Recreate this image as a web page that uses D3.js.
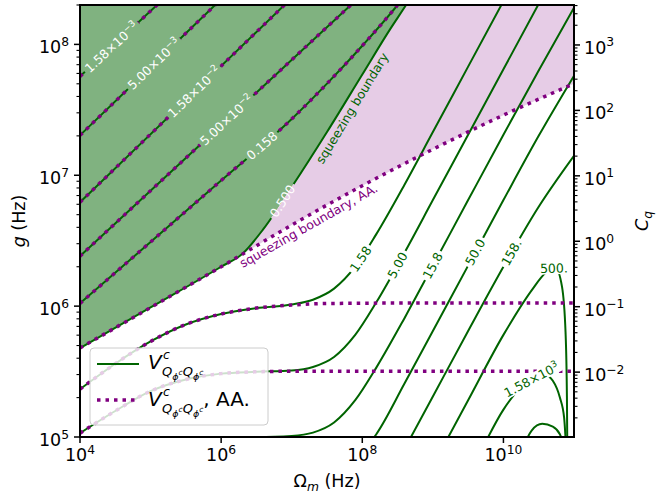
<!DOCTYPE html>
<html>
<head>
<meta charset="utf-8">
<script src="https://cdn.jsdelivr.net/npm/d3@7"></script>
<style>
body { margin: 0; background: #fff; }
svg { font-family: "DejaVu Sans", sans-serif; }
</style>
</head>
<body>
<svg id="chart" width="657" height="494"></svg>
<script>
// contour levels of V^c (the 5000 one carries no label)
var levels = [1.58e-3, 5e-3, 1.58e-2, 5e-2, 0.158, 0.5, 1.58, 5, 15.8, 50, 158, 500, 1580, 5000];

// every curve is a list of [Omega_m (Hz), g (Hz)]
// upper left: exact and AA. lines lie on top of each other
var v1p58m3 = [[1e4, 5.70e7], [3.16e4, 1.01e8], [1.6e5, 2.28e8]];
var v5p00m3 = [[1e4, 2.02e7], [1e5, 6.68e7], [1.3e6, 2.54e8]];
var v1p58m2 = [[1e4, 6.22e6], [3.16e5, 3.75e7], [1.26e7, 2.55e8]];
var v5p00m2 = [[1e4, 2.41e6], [1e6, 2.41e7], [1e8, 2.41e8]];
var v0p158 = [[1e4, 1.05e6], [1e5, 3.09e6], [1e6, 9.12e6], [1e7, 2.69e7], [3.16e7, 5.01e7],
              [1e8, 9.77e7], [3.16e8, 2.0e8], [3.98e8, 2.34e8]];

// squeezing boundary (V = 0.500), exact and AA.
var boundExact = [[1e4, 4.78e5], [1e5, 9.77e5], [1e6, 2.0e6], [2.0e6, 2.51e6], [3.98e6, 3.89e6],
                  [1e7, 8.13e6], [3.16e7, 2.14e7], [1e8, 5.89e7], [2.51e8, 1.32e8], [4.17e8, 2.0e8],
                  [5.01e8, 2.34e8]];
var boundAA = [[1e4, 4.78e5], [1e5, 9.77e5], [1e6, 2.0e6], [1e7, 4.17e6], [1e8, 8.32e6],
               [1e9, 1.58e7], [1e10, 2.88e7], [1e11, 5.01e7]];

// lower part
var v1p58AA = [[1e4, 2.32e5], [3.16e4, 3.63e5], [1e5, 5.37e5], [3.16e5, 7.24e5], [1e6, 8.71e5],
               [3.16e6, 9.66e5], [1e7, 1.02e6], [3.16e7, 1.047e6], [3.16e8, 1.055e6], [1e11, 1.055e6]];
var v1p58 = [[1e4, 2.32e5], [3.16e4, 3.63e5], [1e5, 5.37e5], [3.16e5, 7.24e5], [1e6, 8.71e5],
             [3.16e6, 9.66e5], [1e7, 1.03e6], [2.0e7, 1.12e6], [3.98e7, 1.36e6], [7.94e7, 2.0e6],
             [1.58e8, 3.55e6], [3.98e8, 8.51e6], [1e9, 2.14e7], [3.16e9, 6.76e7], [1e10, 2.14e8]];
var v5p00AA = [[1e4, 1.07e5], [3.16e4, 1.58e5], [1e5, 2.24e5], [3.16e5, 2.75e5], [1e6, 3.05e5],
               [3.16e6, 3.15e5], [1e7, 3.18e5], [1e11, 3.18e5]];
var v5p00 = [[1e4, 1.07e5], [3.16e4, 1.58e5], [1e5, 2.24e5], [3.16e5, 2.75e5], [1e6, 3.05e5],
             [3.16e6, 3.15e5], [1e7, 3.22e5], [2.0e7, 3.43e5], [3.98e7, 4.09e5], [7.94e7, 6.03e5],
             [1.58e8, 1.07e6], [3.98e8, 2.57e6], [1e9, 6.46e6], [3.16e9, 2.04e7], [1e10, 6.46e7],
             [3.16e10, 2.04e8]];
var v15p8 = [[1e6, 9.98e4], [3.16e6, 1.0e5], [1e7, 1.02e5], [2.0e7, 1.08e5], [3.98e7, 1.29e5],
             [7.94e7, 1.91e5], [1.58e8, 3.39e5], [3.98e8, 8.13e5], [1e9, 2.04e6], [3.16e9, 6.46e6],
             [1e10, 2.04e7], [3.16e10, 6.31e7], [1e11, 1.91e8]];
var v50p0 = [[1.26e8, 8.9e4], [1.58e8, 1.05e5], [3.98e8, 2.57e5], [1e9, 6.46e5], [3.16e9, 2.04e6],
             [1e10, 6.46e6], [3.16e10, 2.0e7], [1e11, 5.75e7]];
var v158 = [[3.98e8, 8.13e4], [1e9, 2.04e5], [3.16e9, 6.46e5], [1e10, 2.0e6], [3.16e10, 5.75e6],
            [1e11, 1.41e7]];
var v500 = [[1.26e9, 7.59e4], [3.16e9, 1.91e5], [1e10, 6.03e5], [2.51e10, 1.32e6], [3.98e10, 1.8e6],
            [5.5e10, 1.95e6], [6.76e10, 1.41e6], [7.59e10, 6.31e5], [7.94e10, 2.0e5], [8.04e10, 7.94e4]];
var v1580 = [[5.01e9, 8.13e4], [1e10, 1.62e5], [1.78e10, 2.4e5], [2.82e10, 2.82e5], [3.98e10, 2.95e5],
             [5.01e10, 2.69e5], [6.31e10, 2.0e5], [7.24e10, 1.41e5], [7.76e10, 7.94e4]];
var v5000 = [[2.0e10, 8.9e4], [2.51e10, 1.12e5], [3.55e10, 1.26e5], [5.01e10, 1.2e5], [6.31e10, 1.05e5],
             [7.08e10, 9.0e4]];

var xTicks = [1e4, 1e6, 1e8, 1e10];
var gTicks = [1e5, 1e6, 1e7, 1e8];
var cqTicks = [1e-2, 1e-1, 1e0, 1e1, 1e2, 1e3];

var W = 657, H = 494, pL = 80, pR = 574, pT = 5, pB = 437;
var svg = d3.select("#chart");

var x = d3.scaleLog().domain([1e4, 1e11]).range([pL, pR]);
var y = d3.scaleLog().domain([1e5, 2e8]).range([pB, pT]);
var yr = d3.scaleLog().domain([1.02e-3, 4.08e3]).range([pB, pT]);   // C_q goes as g^2

var line = d3.line().x(function(d) { return x(d[0]); }).y(function(d) { return y(d[1]); })
    .curve(d3.curveMonotoneX);

var defs = svg.append("defs");
defs.append("clipPath").attr("id", "clip").append("rect")
    .attr("x", pL).attr("y", pT).attr("width", pR - pL).attr("height", pB - pT);
var mask = defs.append("mask").attr("id", "gaps").attr("maskUnits", "userSpaceOnUse")
    .attr("x", 0).attr("y", 0).attr("width", W).attr("height", H);
mask.append("rect").attr("width", W).attr("height", H).attr("fill", "white");

// filled regions
var fills = svg.append("g").attr("clip-path", "url(#clip)");
var lastB = boundExact[boundExact.length - 1], lastAA = boundAA[boundAA.length - 1];
var greenPath = line(boundExact) + "L" + x(lastB[0]) + "," + (pT - 30) + "L" + (pL - 20) + "," + (pT - 30) +
    "L" + (pL - 20) + "," + y(boundExact[0][1]) + "Z";
fills.append("path").attr("d", greenPath).attr("fill", "#80b280");
var pinkPath = line(boundExact) + "L" + (pR + 30) + "," + (pT - 30) + "L" + (pR + 30) + "," + y(lastAA[1]) +
    line(boundAA.slice().reverse()).replace("M", "L") + "Z";
fills.append("path").attr("d", pinkPath).attr("fill", "#e6cce6");

// contour lines
var lines = svg.append("g").attr("clip-path", "url(#clip)").append("g").attr("mask", "url(#gaps)");
var exactCurves = {v1p58m3: v1p58m3, v5p00m3: v5p00m3, v1p58m2: v1p58m2, v5p00m2: v5p00m2, v0p158: v0p158,
    boundExact: boundExact, v1p58: v1p58, v5p00: v5p00, v15p8: v15p8, v50p0: v50p0, v158: v158,
    v500: v500, v1580: v1580, v5000: v5000};
var aaCurves = [v1p58m3, v5p00m3, v1p58m2, v5p00m2, v0p158, boundAA, v1p58AA, v5p00AA];

var nodes = {};
Object.keys(exactCurves).forEach(function(k) {
  nodes[k] = lines.append("path").attr("d", line(exactCurves[k]))
      .attr("fill", "none").attr("stroke", "#006400").attr("stroke-width", 2).node();
});
var aaNodes = aaCurves.map(function(c) {
  return lines.append("path").attr("d", line(c)).attr("fill", "none")
      .attr("stroke", "#800080").attr("stroke-width", 3.5).attr("stroke-dasharray", "3.5,5").node();
});
var aaBoundNode = aaNodes[5];

function pointAtX(node, tx) {
  var lo = 0, hi = node.getTotalLength();
  for (var i = 0; i < 30; i++) {
    var mid = (lo + hi) / 2;
    if (node.getPointAtLength(mid).x < tx) lo = mid; else hi = mid;
  }
  var p = node.getPointAtLength(lo);
  var a = node.getPointAtLength(Math.max(0, lo - 4)), b = node.getPointAtLength(lo + 4);
  return {x: p.x, y: p.y, angle: Math.atan2(b.y - a.y, b.x - a.x) * 180 / Math.PI};
}

// inline contour labels
var labels = [
  {curve: "v1p58m3", at: 2.8e4, mant: "1.58", exp: "\u22123", fill: "#fff"},
  {curve: "v5p00m3", at: 1.12e5, mant: "5.00", exp: "\u22123", fill: "#fff"},
  {curve: "v1p58m2", at: 4.17e5, mant: "1.58", exp: "\u22122", fill: "#fff"},
  {curve: "v5p00m2", at: 1.2e6, mant: "5.00", exp: "\u22122", fill: "#fff"},
  {curve: "v0p158", at: 3.8e6, mant: "0.158", fill: "#fff"},
  {curve: "boundExact", at: 7.4e6, mant: "0.500", fill: "#fff"},
  {curve: "v1p58", at: 9.5e7, mant: "1.58", fill: "#006400"},
  {curve: "v5p00", at: 3.16e8, mant: "5.00", fill: "#006400"},
  {curve: "v15p8", at: 1e9, mant: "15.8", fill: "#006400"},
  {curve: "v50p0", at: 4e9, mant: "50.0", fill: "#006400"},
  {curve: "v158", at: 1.3e10, mant: "158.", fill: "#006400"},
  {curve: "v500", at: 5.2e10, mant: "500.", fill: "#006400"},
  {curve: "v1580", at: 2.5e10, mant: "1.58", exp: "3", fill: "#006400"}
];
var labG = svg.append("g");
labels.forEach(function(l) {
  var p = pointAtX(nodes[l.curve], x(l.at));
  var tr = "translate(" + p.x + "," + p.y + ") rotate(" + p.angle + ")";
  var t = labG.append("text").attr("transform", tr).attr("text-anchor", "middle")
      .attr("dy", "0.35em").style("font-size", "12.5px").attr("fill", l.fill);
  if (l.exp) {
    t.append("tspan").text(l.mant + "\u00d710");
    t.append("tspan").attr("dy", -5).style("font-size", "9px").text(l.exp);
  } else {
    t.text(l.mant);
  }
  var w = t.node().getComputedTextLength() + 5;
  mask.append("rect").attr("transform", tr).attr("x", -w / 2).attr("y", -6)
      .attr("width", w).attr("height", 12).attr("fill", "black");
});

// boundary annotations
function along(node, om, off, txt, color) {
  var p = pointAtX(node, x(om));
  svg.append("text")
      .attr("transform", "translate(" + p.x + "," + p.y + ") rotate(" + p.angle + ") translate(0," + off + ")")
      .attr("text-anchor", "middle").attr("dy", "0.35em").style("font-size", "12.5px")
      .attr("fill", color).text(txt);
}
along(nodes.boundExact, 5.6e7, 9, "squeezing boundary", "#006400");
along(aaBoundNode, 1.5e7, 9, "squeezing boundary, AA.", "#800080");

// frame and ticks
var ax = svg.append("g").attr("stroke", "#000");
ax.append("rect").attr("x", pL).attr("y", pT).attr("width", pR - pL).attr("height", pB - pT)
    .attr("fill", "none").attr("stroke-width", 2);

function minors(lo, hi) {
  var out = [];
  for (var e = Math.floor(Math.log10(lo)); e <= Math.ceil(Math.log10(hi)); e++)
    for (var k = 2; k <= 9; k++) {
      var v = k * Math.pow(10, e);
      if (v >= lo * 0.999 && v <= hi * 1.001) out.push(v);
    }
  return out;
}
function pow10(sel, exp) {
  sel.append("tspan").text("10");
  sel.append("tspan").attr("dy", -7.5).style("font-size", "12.3px")
      .text(exp < 0 ? "\u2212" + (-exp) : String(exp));
}

xTicks.forEach(function(v) {
  ax.append("line").attr("x1", x(v)).attr("x2", x(v)).attr("y1", pB).attr("y2", pB + 6)
      .attr("stroke-width", 1.5);
  pow10(svg.append("text").attr("x", x(v)).attr("y", 461).attr("text-anchor", "middle")
      .style("font-size", "17.5px"), Math.round(Math.log10(v)));
});
gTicks.forEach(function(v) {
  ax.append("line").attr("x1", pL - 6).attr("x2", pL).attr("y1", y(v)).attr("y2", y(v))
      .attr("stroke-width", 1.5);
  pow10(svg.append("text").attr("x", pL - 11).attr("y", y(v) + 9).attr("text-anchor", "end")
      .style("font-size", "17.5px"), Math.round(Math.log10(v)));
});
minors(1e5, 2e8).forEach(function(v) {
  ax.append("line").attr("x1", pL - 3.5).attr("x2", pL).attr("y1", y(v)).attr("y2", y(v))
      .attr("stroke-width", 1.1);
});
cqTicks.forEach(function(v) {
  ax.append("line").attr("x1", pR).attr("x2", pR + 6).attr("y1", yr(v)).attr("y2", yr(v))
      .attr("stroke-width", 1.5);
  pow10(svg.append("text").attr("x", pR + 10).attr("y", yr(v) + 9).attr("text-anchor", "start")
      .style("font-size", "17.5px"), Math.round(Math.log10(v)));
});
minors(1.02e-3, 4.08e3).forEach(function(v) {
  ax.append("line").attr("x1", pR).attr("x2", pR + 3.5).attr("y1", yr(v)).attr("y2", yr(v))
      .attr("stroke-width", 1.1);
});

// axis titles
var gl = svg.append("text").attr("transform", "translate(25," + (pT + pB) / 2 + ") rotate(-90)")
    .attr("text-anchor", "middle").style("font-size", "17.5px");
gl.append("tspan").style("font-style", "italic").text("g");
gl.append("tspan").text(" (Hz)");

var xl = svg.append("text").attr("x", (pL + pR) / 2).attr("y", 487).attr("text-anchor", "middle")
    .style("font-size", "17.5px");
xl.append("tspan").text("\u03a9");
xl.append("tspan").attr("dy", 4).style("font-size", "12.3px").style("font-style", "italic").text("m");
xl.append("tspan").attr("dy", -4).text(" (Hz)");

var cl = svg.append("text").attr("transform", "translate(648," + (pT + pB) / 2 + ") rotate(-90)")
    .attr("text-anchor", "middle").style("font-size", "17.5px");
cl.append("tspan").style("font-style", "italic").text("C");
cl.append("tspan").attr("dy", 4).style("font-size", "12.3px").style("font-style", "italic").text("q");

// legend
var lg = svg.append("g");
lg.append("rect").attr("x", 90).attr("y", 348).attr("width", 178).attr("height", 77).attr("rx", 4)
    .attr("fill", "#fff").attr("fill-opacity", 0.8).attr("stroke", "#cccccc").attr("stroke-width", 1);
lg.append("line").attr("x1", 97).attr("x2", 139).attr("y1", 364).attr("y2", 364)
    .attr("stroke", "#006400").attr("stroke-width", 2);
lg.append("line").attr("x1", 97).attr("x2", 139).attr("y1", 400).attr("y2", 400)
    .attr("stroke", "#800080").attr("stroke-width", 3.5).attr("stroke-dasharray", "3.5,5");

function legendText(base, extra) {
  var t = lg.append("text").style("font-size", "20px");
  t.append("tspan").attr("x", 148).attr("y", base).style("font-style", "italic").text("V");
  t.append("tspan").attr("x", 163).attr("y", base - 10).style("font-size", "12.5px").style("font-style", "italic").text("c");
  t.append("tspan").attr("x", 162).attr("y", base + 7).style("font-size", "13px").style("font-style", "italic").text("Q");
  t.append("tspan").attr("y", base + 11).style("font-size", "9.5px").style("font-style", "italic").text("\u03d5");
  t.append("tspan").attr("y", base + 6).style("font-size", "7.5px").style("font-style", "italic").text("c");
  t.append("tspan").attr("y", base + 7).style("font-size", "13px").style("font-style", "italic").text("Q");
  t.append("tspan").attr("y", base + 11).style("font-size", "9.5px").style("font-style", "italic").text("\u03d5");
  t.append("tspan").attr("y", base + 6).style("font-size", "7.5px").style("font-style", "italic").text("c");
  if (extra) t.append("tspan").attr("y", base).text(extra);
}
legendText(369, null);
legendText(406, ", AA.");
</script>
</body>
</html>
